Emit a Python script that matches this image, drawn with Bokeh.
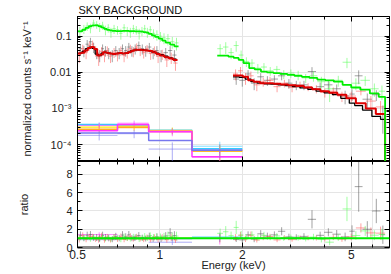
import numpy as np
from bokeh.plotting import figure
from bokeh.layouts import column
from bokeh.models import (Range1d, LogAxis, LinearAxis, CustomJSTickFormatter,
                          FixedTicker, Span, Title)
from bokeh.embed import file_html
from bokeh.resources import INLINE

# ---------------- data ----------------
title_text = "SKY BACKGROUND"
y_label_top = "normalized counts s\u207b\u00b9 keV\u207b\u00b9"
y_label_bot = "ratio"
x_label = "Energy (keV)"

x_major = [0.5, 1, 2, 5]
x_minor = [0.6, 0.7, 0.8, 0.9, 3, 4, 6]
ytop_major = [1e-4, 1e-3, 1e-2, 0.1]
ytop_minor = [m * d for d in (1e-5, 1e-4, 1e-3, 1e-2, 0.1) for m in range(2, 10)]
ybot_major = [0, 2, 4, 6, 8]
ybot_minor = [1, 3, 5, 7, 9]

# green spectrum
green_lo_edges = [0.50, 0.52, 0.535, 0.55, 0.565, 0.58, 0.595, 0.61, 0.625, 0.64, 0.655, 0.67,
                  0.69, 0.71, 0.73, 0.75, 0.77, 0.79, 0.81, 0.83, 0.85, 0.87, 0.89, 0.91, 0.935,
                  0.96, 0.99, 1.02, 1.05, 1.09, 1.13, 1.17]
green_lo_model = [0.135, 0.15, 0.17, 0.19, 0.20, 0.20, 0.19, 0.175, 0.16, 0.15, 0.145, 0.14,
                  0.138, 0.138, 0.14, 0.14, 0.138, 0.137, 0.135, 0.135, 0.133, 0.13, 0.125,
                  0.115, 0.105, 0.095, 0.085, 0.075, 0.066, 0.058, 0.052]
green_lo_data = [0.14, 0.16, 0.19, 0.17, 0.23, 0.21, 0.18, 0.20, 0.15, 0.17, 0.13, 0.16, 0.15,
                 0.12, 0.17, 0.14, 0.13, 0.16, 0.15, 0.12, 0.14, 0.16, 0.13, 0.15, 0.12, 0.11,
                 0.10, 0.09, 0.085, 0.07, 0.065]
green_lo_err = [0.04, 0.045, 0.05, 0.05, 0.055, 0.05, 0.05, 0.05, 0.045, 0.045, 0.04, 0.045,
                0.04, 0.04, 0.045, 0.04, 0.04, 0.045, 0.04, 0.04, 0.04, 0.045, 0.04, 0.04,
                0.035, 0.035, 0.03, 0.03, 0.03, 0.025, 0.025]
green_hi_edges = [1.62, 1.70, 1.78, 1.86, 1.94, 2.02, 2.12, 2.22, 2.34, 2.46, 2.60, 2.75, 2.92,
                  3.10, 3.30, 3.52, 3.76, 4.02, 4.32, 4.65, 5.0, 5.4, 5.85, 6.3, 6.65, 6.9]
green_hi_model = [0.029, 0.029, 0.027, 0.025, 0.022, 0.018, 0.013, 0.012, 0.0105, 0.010,
                  0.0095, 0.009, 0.0085, 0.008, 0.0075, 0.007, 0.0063, 0.006, 0.0055, 0.0045,
                  0.0038, 0.0033, 0.0026, 0.0021, 1e-6]
green_hi_data = [0.045, 0.05, 0.035, 0.055, 0.03, 0.02, 0.018, 0.013, 0.014, 0.011, 0.012,
                 0.009, 0.0095, 0.0085, 0.007, 0.008, 0.0055, 0.0035, 0.006, 0.019, 0.005,
                 0.006, 0.0035, 0.003, np.nan]
green_hi_err = [0.015, 0.018, 0.012, 0.018, 0.01, 0.006, 0.005, 0.004, 0.004, 0.003, 0.003,
                0.0025, 0.0025, 0.0025, 0.002, 0.0025, 0.002, 0.002, 0.002, 0.006, 0.0018,
                0.0018, 0.0014, 0.0013, np.nan]

# red spectrum
red_lo_edges = [0.50, 0.515, 0.53, 0.545, 0.56, 0.575, 0.59, 0.605, 0.62, 0.635, 0.65, 0.67,
                0.69, 0.71, 0.73, 0.75, 0.77, 0.79, 0.81, 0.835, 0.86, 0.885, 0.91, 0.94, 0.97,
                1.0, 1.04, 1.08, 1.12, 1.16]
red_lo_model = [0.033, 0.035, 0.04, 0.047, 0.05, 0.044, 0.029, 0.031, 0.036, 0.035, 0.033,
                0.032, 0.033, 0.034, 0.033, 0.034, 0.037, 0.040, 0.042, 0.042, 0.041, 0.040,
                0.039, 0.036, 0.032, 0.029, 0.026, 0.024, 0.022]
red_lo_data = [0.03, 0.045, 0.035, 0.055, 0.06, 0.04, 0.025, 0.038, 0.03, 0.04, 0.028, 0.036,
               0.03, 0.04, 0.029, 0.035, 0.045, 0.038, 0.05, 0.04, 0.035, 0.045, 0.033, 0.04,
               0.028, 0.032, 0.022, 0.026, 0.018]
red_lo_err = [0.012, 0.013, 0.012, 0.015, 0.015, 0.013, 0.010, 0.012, 0.011, 0.012, 0.010,
              0.011, 0.010, 0.012, 0.010, 0.011, 0.013, 0.012, 0.013, 0.012, 0.011, 0.012,
              0.011, 0.012, 0.010, 0.010, 0.008, 0.009, 0.007]
red_hi_edges = [1.85, 1.93, 2.01, 2.10, 2.20, 2.32, 2.45, 2.60, 2.76, 2.94, 3.14, 3.36, 3.60,
                3.86, 4.15, 4.45, 4.80, 5.2, 5.65, 6.15, 6.65, 6.9]
red_hi_model = [0.0082, 0.0082, 0.0075, 0.006, 0.0055, 0.005, 0.005, 0.0048, 0.0046, 0.0044,
                0.0042, 0.0038, 0.0034, 0.003, 0.0027, 0.0024, 0.0019, 0.0014, 0.001, 0.0007,
                1e-6]
red_hi_data = [0.009, 0.011, 0.007, 0.008, 0.0045, 0.0055, 0.006, 0.004, 0.005, 0.0038,
               0.0045, 0.004, 0.0035, 0.0028, 0.003, 0.0022, 0.0022, 0.003, 0.0016, 0.0011,
               np.nan]
red_hi_err = [0.003, 0.003, 0.0025, 0.0025, 0.0015, 0.0015, 0.0015, 0.0012, 0.0012, 0.001,
              0.001, 0.001, 0.0009, 0.0008, 0.0008, 0.0007, 0.0007, 0.0007, 0.0006, 0.0005,
              np.nan]

# black spectrum
black_lo_edges = [0.505, 0.52, 0.535, 0.55, 0.565, 0.58, 0.595, 0.61, 0.625, 0.64, 0.66, 0.68,
                  0.70, 0.72, 0.74, 0.76, 0.78, 0.80, 0.825, 0.85, 0.875, 0.90, 0.93, 0.96,
                  0.99, 1.03, 1.07, 1.11, 1.15]
black_lo_model = [0.034, 0.038, 0.045, 0.05, 0.046, 0.032, 0.029, 0.034, 0.036, 0.034, 0.033,
                  0.033, 0.034, 0.033, 0.034, 0.036, 0.039, 0.041, 0.042, 0.042, 0.041, 0.040,
                  0.037, 0.034, 0.031, 0.028, 0.025, 0.023]
black_lo_data = [0.045, 0.04, 0.06, 0.07, 0.05, 0.035, 0.03, 0.045, 0.04, 0.035, 0.03, 0.04,
                 0.035, 0.045, 0.04, 0.05, 0.04, 0.045, 0.055, 0.045, 0.04, 0.05, 0.035, 0.04,
                 0.03, 0.035, 0.04, 0.03]
black_lo_err = [0.015, 0.014, 0.018, 0.02, 0.016, 0.012, 0.011, 0.014, 0.013, 0.012, 0.011,
                0.013, 0.012, 0.014, 0.013, 0.015, 0.013, 0.014, 0.016, 0.014, 0.013, 0.015,
                0.012, 0.013, 0.011, 0.012, 0.013, 0.011]
black_hi_edges = [1.85, 1.95, 2.05, 2.15, 2.27, 2.40, 2.54, 2.70, 2.87, 3.05, 3.25, 3.47, 3.72,
                  3.98, 4.27, 4.58, 4.92, 5.15, 5.5, 5.95, 6.4, 6.65, 6.9]
black_hi_model = [0.0075, 0.0072, 0.0065, 0.0055, 0.005, 0.0048, 0.0047, 0.0045, 0.0043,
                  0.004, 0.0037, 0.0034, 0.003, 0.0027, 0.0024, 0.0019, 0.0014, 0.0012,
                  0.0009, 0.0006, 0.0005, 1e-6]
black_hi_data = [0.0065, 0.006, 0.009, 0.005, 0.0075, 0.006, 0.0065, 0.008, 0.005, 0.0045,
                 0.0045, 0.0105, 0.004, 0.0045, 0.0035, 0.0022, 0.0025, 0.008, 0.0018, 0.0024,
                 0.0007, np.nan]
black_hi_err = [0.002, 0.002, 0.0025, 0.0018, 0.002, 0.0018, 0.0018, 0.002, 0.0015, 0.0013,
                0.0013, 0.0034, 0.0012, 0.0012, 0.0011, 0.0009, 0.0009, 0.0033, 0.0008,
                0.0008, 0.0005, np.nan]

# faint background components (4 wide bins)
comp_edges = [0.5, 0.70, 0.91, 1.31, 2.0]
cyan_model = [3.6e-4, 3.3e-4, 2.5e-4, 7.7e-5]
cyan_data = [3.5e-4, 3.4e-4, 2.4e-4, 9.0e-5]
cyan_err = [0.6e-4, 0.5e-4, 0.5e-4, 3.0e-5]
yellow_model = [3.0e-4, 3.2e-4, 2.4e-4, 6.6e-5]
yellow_data = [3.1e-4, 3.0e-4, 2.5e-4, 6.5e-5]
yellow_err = [0.6e-4, 0.5e-4, 0.5e-4, 3.0e-5]
magenta_model = [2.4e-4, 3.6e-4, 2.3e-4, 4.6e-5]
magenta_data = [3.4e-4, 3.9e-4, 2.2e-4, 4.5e-5]
magenta_err = [0.6e-4, 0.7e-4, 0.5e-4, 3.0e-5]
blue_model = [2.1e-4, 2.1e-4, 1.3e-4, 7.0e-5]
blue_data = [1.8e-4, 2.0e-4, 0.75e-4, 7.2e-5]
blue_err = [0.5e-4, 0.5e-4, 0.4e-4, 3.0e-5]
orange_model = [2.6e-4, 3.0e-4, 2.3e-4, 6.6e-5]
orange_data = [2.7e-4, 2.9e-4, 2.4e-4, 6.8e-5]
orange_err = [0.6e-4, 0.5e-4, 0.5e-4, 3.0e-5]

# ---------------- helpers ----------------
XMIN, XMAX = 0.5, 6.9
YTOP_MIN, YTOP_MAX = 3.4e-5, 0.35
YBOT_MIN, YBOT_MAX = 0.0, 9.42
FONT = "Liberation Sans"


def step_xy(edges, vals):
    e = np.asarray(edges, float)
    v = np.asarray(vals, float)
    return np.repeat(e, 2)[1:-1], np.repeat(v, 2)


def crosses(fig, edges, y, dy, color, alpha, ylog):
    e = np.asarray(edges, float)
    y = np.asarray(y, float)
    dy = np.asarray(dy, float)
    c = 0.5 * (e[:-1] + e[1:])
    lo = y - dy
    if ylog:
        lo = np.where(lo > 0, lo, YTOP_MIN * 0.5)
    fig.segment(e[:-1], y, e[1:], y, line_color=color, line_alpha=alpha, line_width=1)
    fig.segment(c, lo, c, y + dy, line_color=color, line_alpha=alpha, line_width=1)


def style(ax, labels, size="11px"):
    ax.major_tick_in = 5
    ax.major_tick_out = 0
    ax.minor_tick_in = 3
    ax.minor_tick_out = 0
    ax.axis_line_color = "black"
    ax.major_tick_line_color = "black"
    ax.minor_tick_line_color = "black"
    ax.major_label_text_font = FONT
    ax.major_label_text_color = "#222222"
    ax.axis_label_text_font = FONT
    ax.axis_label_text_font_style = "normal"
    ax.axis_label_text_font_size = "11px"
    ax.axis_label_text_color = "#222222"
    if labels:
        ax.major_label_text_font_size = size
    else:
        ax.major_label_text_font_size = "0px"
        ax.major_label_standoff = 0
        ax.formatter = CustomJSTickFormatter(code="return '';")


xr = Range1d(XMIN, XMAX)

top = figure(width=391, height=161, x_axis_type="log", y_axis_type="log",
             x_range=xr, y_range=Range1d(YTOP_MIN, YTOP_MAX),
             x_axis_location=None, y_axis_location=None,
             output_backend="svg", toolbar_location=None,
             min_border_left=77, min_border_right=2, min_border_top=16, min_border_bottom=0)
top.outline_line_color = "black"
top.title = Title(text=title_text, align="left", text_font=FONT, text_font_size="11px",
                  text_font_style="normal", text_color="#111111", standoff=1, offset=1)

bot = figure(width=391, height=113, x_axis_type="log",
             x_range=xr, y_range=Range1d(YBOT_MIN, YBOT_MAX),
             x_axis_location=None, y_axis_location=None,
             output_backend="svg", toolbar_location=None,
             min_border_left=77, min_border_right=2, min_border_top=0, min_border_bottom=27)
bot.outline_line_color = "black"

for f in (top, bot):
    f.background_fill_color = "white"
    f.border_fill_color = "white"

# axes of top panel
ylog_fmt = CustomJSTickFormatter(code="""
const e = Math.round(Math.log10(tick));
if (e === -1) return '0.1';
if (e === -2) return '0.01';
const sup = {'-':'\u207b','0':'\u2070','1':'\u00b9','2':'\u00b2','3':'\u00b3','4':'\u2074','5':'\u2075','6':'\u2076','7':'\u2077','8':'\u2078','9':'\u2079'};
return '10' + String(e).split('').map(ch => sup[ch]).join('');
""")
ax = LogAxis(ticker=FixedTicker(ticks=ytop_major, minor_ticks=ytop_minor), formatter=ylog_fmt,
             axis_label=y_label_top)
style(ax, True)
ax.major_label_standoff = 6
ax.axis_label_standoff = 14
top.add_layout(ax, "left")
ax = LogAxis(ticker=FixedTicker(ticks=ytop_major, minor_ticks=ytop_minor))
style(ax, False)
top.add_layout(ax, "right")
for loc in ("above", "below"):
    ax = LogAxis(ticker=FixedTicker(ticks=x_major, minor_ticks=x_minor))
    style(ax, False)
    top.add_layout(ax, loc)

# axes of bottom panel
ax = LinearAxis(ticker=FixedTicker(ticks=ybot_major, minor_ticks=ybot_minor), axis_label=y_label_bot)
style(ax, True)
ax.major_label_standoff = 5
ax.axis_label_standoff = 33
bot.add_layout(ax, "left")
ax = LinearAxis(ticker=FixedTicker(ticks=ybot_major, minor_ticks=ybot_minor))
style(ax, False)
bot.add_layout(ax, "right")
ax = LogAxis(ticker=FixedTicker(ticks=x_major, minor_ticks=x_minor))
style(ax, False)
bot.add_layout(ax, "above")
ax = LogAxis(ticker=FixedTicker(ticks=x_major, minor_ticks=x_minor), axis_label=x_label,
             formatter=CustomJSTickFormatter(code="return String(tick);"))
style(ax, True, size="12px")
ax.major_label_standoff = 2
ax.axis_label_standoff = -3
ax.axis_line_color = "#888888"
ax.axis_line_width = 3
bot.add_layout(ax, "below")

# ---------------- draw ----------------
comps = [
    (cyan_model, cyan_data, cyan_err, "#33ccff"),
    (yellow_model, yellow_data, yellow_err, "#ffee44"),
    (orange_model, orange_data, orange_err, "#ffaa22"),
    (magenta_model, magenta_data, magenta_err, "#ff33ff"),
    (blue_model, blue_data, blue_err, "#7777ee"),
]
for m, d, dd, col in comps:
    xs, ys = step_xy(comp_edges, m)
    top.line(xs, ys, line_color=col, line_width=1.5)
    crosses(top, comp_edges, d, dd, col, 0.6, True)
    rm = np.asarray(d) / np.asarray(m)
    re = np.asarray(dd) / np.asarray(m)
    crosses(bot, comp_edges, rm, re, col, 0.6, False)

spectra = [
    ("black", "#000000", 1.3,
     [(black_lo_edges, black_lo_model, black_lo_data, black_lo_err),
      (black_hi_edges, black_hi_model, black_hi_data, black_hi_err)]),
    ("red", "#dd0000", 2.0,
     [(red_lo_edges, red_lo_model, red_lo_data, red_lo_err),
      (red_hi_edges, red_hi_model, red_hi_data, red_hi_err)]),
    ("green", "#00ee00", 1.8,
     [(green_lo_edges, green_lo_model, green_lo_data, green_lo_err),
      (green_hi_edges, green_hi_model, green_hi_data, green_hi_err)]),
]
data_colors = {"black": "#555555", "red": "#ff5555", "green": "#55ff55"}
for name, mcol, mw, segs in spectra:
    for edges, model, data, err in segs:
        crosses(top, edges, data, err, data_colors[name], 0.55, True)
        r = np.asarray(data, float) / np.asarray(model, float)
        re = np.asarray(err, float) / np.asarray(model, float)
        crosses(bot, edges, r, re, data_colors[name], 0.55, False)
for name, mcol, mw, segs in spectra:
    for edges, model, data, err in segs:
        xs, ys = step_xy(edges, model)
        top.line(xs, ys, line_color=mcol, line_width=mw)

bot.add_layout(Span(location=1, dimension="width", line_color="#00ee00", line_width=2))

layout = column(top, bot, spacing=0)
open("out.html", "w").write(file_html(layout, INLINE))
